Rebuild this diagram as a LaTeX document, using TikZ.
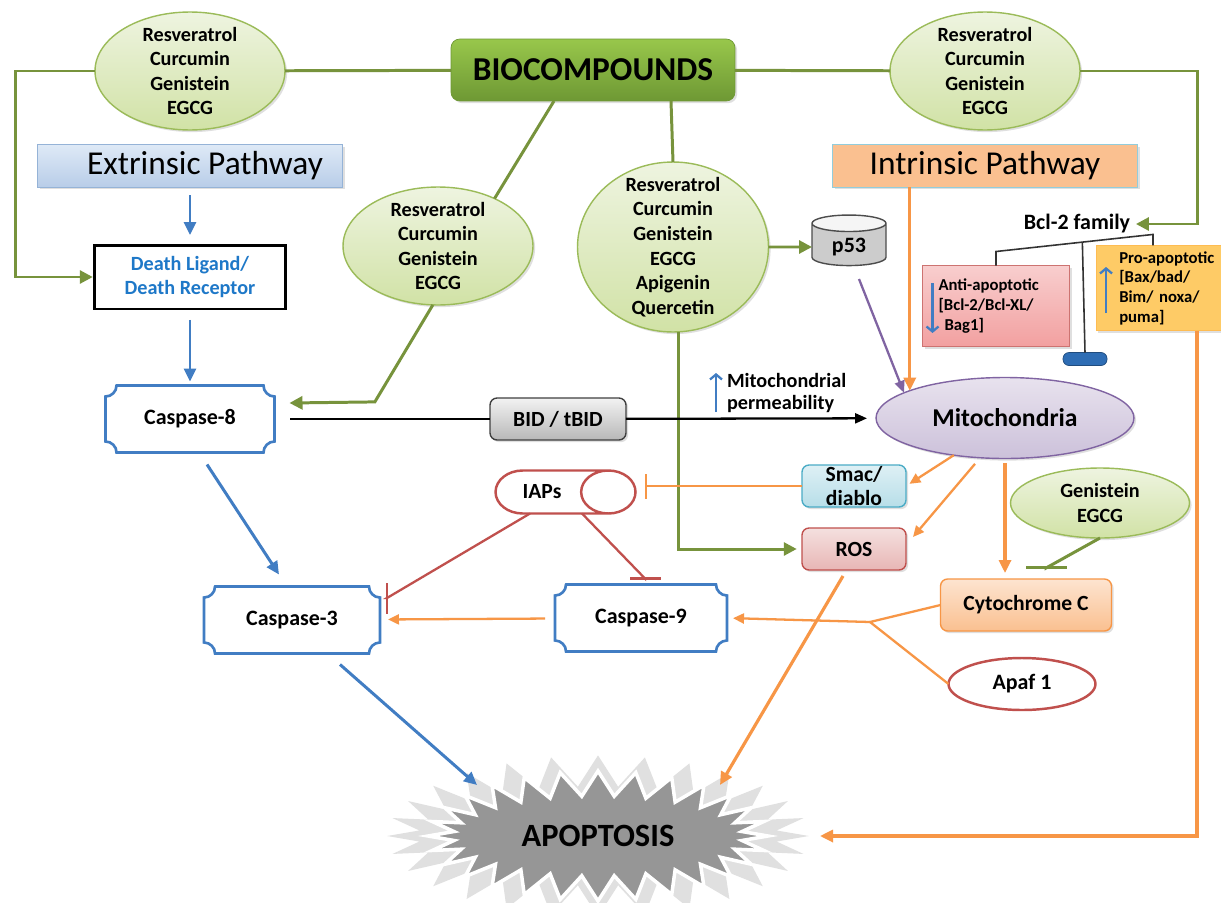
\documentclass[tikz,border=0pt]{standalone}
\usepackage{fontspec}
\setmainfont{Carlito}
\usepackage{xcolor}
\usepackage{tikz}
\definecolor{leafgreen}{RGB}{119,147,60}
\definecolor{leaflight}{RGB}{238,244,224}
\definecolor{leafmid}{RGB}{209,226,166}
\definecolor{leafedge}{RGB}{155,187,89}
\definecolor{biotop}{RGB}{152,199,75}
\definecolor{biobottom}{RGB}{110,152,52}
\definecolor{caspblue}{RGB}{65,125,195}
\definecolor{ligandblue}{RGB}{30,120,200}
\definecolor{signalorange}{RGB}{247,150,70}
\definecolor{blockred}{RGB}{192,80,77}
\definecolor{mitopurple}{RGB}{128,100,162}
\definecolor{mitotop}{RGB}{232,226,238}
\definecolor{mitobottom}{RGB}{204,193,218}
\definecolor{extrtop}{RGB}{222,233,246}
\definecolor{extrbottom}{RGB}{184,205,232}
\definecolor{extredge}{RGB}{149,179,215}
\definecolor{intrfill}{RGB}{250,192,144}
\definecolor{intredge}{RGB}{146,205,220}
\definecolor{skytop}{RGB}{222,240,245}
\definecolor{skybottom}{RGB}{183,222,232}
\definecolor{skyedge}{RGB}{75,172,198}
\definecolor{rostop}{RGB}{244,224,223}
\definecolor{rosbottom}{RGB}{232,182,181}
\definecolor{cytotop}{RGB}{253,228,208}
\definecolor{cytobottom}{RGB}{250,192,144}
\definecolor{antitop}{RGB}{248,206,206}
\definecolor{antibottom}{RGB}{242,160,160}
\definecolor{profill}{RGB}{254,203,102}
\definecolor{pillblue}{RGB}{46,109,180}
\definecolor{apopgray}{RGB}{150,150,150}
\usetikzlibrary{shapes,arrows.meta,positioning,shadows,calc}

\begin{document}
\begin{tikzpicture}[
    x=0.02cm, y=-0.02cm,
    every node/.style={outer sep=0pt},
    softshadow/.style={drop shadow={opacity=0.25, shadow xshift=1.2pt, shadow yshift=-1.2pt}},
    compound/.style={ellipse, draw=leafedge, thick, top color=leaflight, bottom color=leafmid, softshadow, align=center, inner xsep=0pt, inner ysep=-6pt, minimum width=3.8cm, minimum height=2.36cm, font=\bfseries\fontsize{11.5}{14}\selectfont},
    headbox/.style={rectangle, rounded corners=5pt, draw=biobottom, top color=biotop, bottom color=biobottom, softshadow, minimum width=5.68cm, minimum height=1.24cm, font=\bfseries\fontsize{19}{22}\selectfont},
    pathway/.style={rectangle, thick, softshadow, minimum width=6.1cm, minimum height=0.85cm, font=\fontsize{19}{22}\selectfont},
    ligand/.style={rectangle, draw=black, line width=1.7pt, fill=white, minimum width=3.82cm, minimum height=1.28cm, align=center, text=ligandblue, font=\bfseries\fontsize{11.5}{14.2}\selectfont},
    casp/.style={rectangle, minimum height=1.34cm, font=\bfseries\fontsize{12.5}{15}\selectfont},
    caspline/.style={draw=caspblue, line width=1.5pt},
    chip/.style={rectangle, rounded corners=4pt, thick, softshadow, align=center, inner sep=0pt, font=\bfseries\fontsize{12.3}{13.6}\selectfont},
    plug/.style={cylinder, aspect=2.1, draw=blockred, line width=1.4pt, fill=white, minimum width=0.86cm, minimum height=2.8cm, font=\bfseries\fontsize{12.3}{14}\selectfont},
    drum/.style={cylinder, shape border rotate=90, aspect=0.36, draw=black!70, thick, cylinder uses custom fill, cylinder body fill=black!20, cylinder end fill=black!4, minimum width=1.48cm, minimum height=0.98cm, font=\bfseries\fontsize{12.5}{15}\selectfont},
    bclbox/.style={rectangle, softshadow, align=left, font=\bfseries\fontsize{9.5}{11.2}\selectfont},
    burst/.style={starburst, starburst points=28, starburst point height=0.5cm, random starburst=0, fill=apopgray, draw=white, line width=2pt, minimum width=6.8cm, minimum height=2.6cm, font=\bfseries\fontsize{18.5}{20}\selectfont, general shadow={fill=black!12, shadow scale=1.24}},
    leafline/.style={draw=leafgreen, line width=1.7pt},
    leafarrow/.style={leafline, -{Triangle[length=0.26cm, width=0.26cm]}},
    leafbar/.style={leafline, -{Bar[width=0.82cm]}},
    bluearrow/.style={draw=caspblue, line width=1.7pt, -{Triangle[length=0.26cm, width=0.24cm]}},
    thinup/.style={draw=caspblue, line width=1.3pt, -{Straight Barb[length=0.1cm, width=0.24cm]}},
    blackline/.style={draw=black, line width=1.3pt},
    blackarrow/.style={blackline, -{Triangle[length=0.24cm, width=0.2cm]}},
    orangeline/.style={draw=signalorange, line width=1.3pt},
    orangearrow/.style={orangeline, -{Triangle[length=0.22cm, width=0.2cm]}},
    heavyorange/.style={draw=signalorange, line width=1.8pt, -{Triangle[length=0.26cm, width=0.24cm]}},
    orangebar/.style={orangeline, -{Bar[width=0.5cm]}},
    redbar/.style={draw=blockred, line width=1.3pt, -{Bar[width=0.62cm]}},
    purplearrow/.style={draw=mitopurple, line width=1.3pt, -{Triangle[length=0.24cm, width=0.2cm]}},
    beamline/.style={draw=black!80, line width=0.9pt}
]

\path[use as bounding box, fill=white] (0,0) rectangle (1221,903);

\node[headbox] (bio) at (593,70) {BIOCOMPOUNDS};
\node[compound] (tl) at (190,71) {Resveratrol\\Curcumin\\Genistein\\EGCG};
\node[compound] (tr) at (985,71) {Resveratrol\\Curcumin\\Genistein\\EGCG};
\node[compound] (ml) at (438,246) {Resveratrol\\Curcumin\\Genistein\\EGCG};
\node[compound, minimum width=3.82cm, minimum height=3.4cm] (mc) at (673,247) {Resveratrol\\Curcumin\\Genistein\\EGCG\\Apigenin\\Quercetin};
\node[compound, minimum width=3.58cm, minimum height=1.4cm] (gen) at (1100,503) {Genistein\\EGCG};

\node[pathway, draw=extredge, top color=extrtop, bottom color=extrbottom] (extr) at (190,166) {\hspace{0.6cm}Extrinsic Pathway};
\node[pathway, draw=intredge, fill=intrfill] (intr) at (985,166) {Intrinsic Pathway};

\node[ligand] (death) at (190,277) {Death Ligand/\\Death Receptor};
\node[casp, minimum width=3.38cm] (casp8) at (190,419) {Caspase-8};
\node[casp, minimum width=3.52cm] (casp3) at (292,620) {Caspase-3};
\node[casp, minimum width=3.44cm] (casp9) at (641,618) {Caspase-9};

\node[chip, draw=black!75, top color=black!5, bottom color=black!28, minimum width=2.72cm, minimum height=0.84cm] (bid) at (558,419) {BID / tBID};
\node[plug] (iaps) at (542,492) {IAPs};
\node[drum] (p53) at (849,247) {p53};
\node[ellipse, draw=mitopurple, thick, top color=mitotop, bottom color=mitobottom, softshadow, minimum width=5.16cm, minimum height=1.62cm, font=\bfseries\fontsize{14.6}{16}\selectfont] (mito) at (1005,418) {Mitochondria};
\node[anchor=west, align=left, inner sep=0pt, font=\bfseries\fontsize{11.5}{13}\selectfont] (perm) at (727,393) {Mitochondrial\\permeability};
\node[chip, draw=skyedge, top color=skytop, bottom color=skybottom, minimum width=2.08cm, minimum height=0.84cm] (smac) at (854,486) {Smac/\\diablo};
\node[chip, draw=blockred, top color=rostop, bottom color=rosbottom, minimum width=2.08cm, minimum height=0.84cm] (ros) at (854,549) {ROS};
\node[chip, draw=signalorange, top color=cytotop, bottom color=cytobottom, minimum width=3.42cm, minimum height=1.04cm] (cyto) at (1026,605) {Cytochrome C};
\node[ellipse, draw=blockred, line width=1.4pt, fill=white, minimum width=2.94cm, minimum height=1.04cm, font=\bfseries\fontsize{12.5}{15}\selectfont] (apaf) at (1022,684) {Apaf 1};

\node[font=\bfseries\fontsize{12.5}{15}\selectfont] (bcl) at (1077,224) {Bcl-2 family};
\node[bclbox, draw=blockred!80, top color=antitop, bottom color=antibottom, minimum width=2.94cm, minimum height=1.62cm, text width=2.3cm] (anti) at (996,306) {Anti-apoptotic\\{}[Bcl-2/Bcl-XL/\\\hspace*{0.12cm}Bag1]};
\node[bclbox, draw=profill!80!orange, fill=profill, minimum width=2.88cm, minimum height=1.6cm, text width=1.95cm] (pro) at (1168,288) {Pro-apoptotic\\{}[Bax/bad/\\Bim/ noxa/\\puma]};
\node[rectangle, rounded corners=0.12cm, draw=pillblue!70!black, fill=pillblue, minimum width=0.88cm, minimum height=0.26cm, inner sep=0pt] (pill) at (1085,359) {};

\node[burst] (apop) at (598,836) {APOPTOSIS};

\foreach \c in {casp8,casp3,casp9}
  \draw[caspline] ([shift={(11,0)}]\c.north west) -- ([shift={(-11,0)}]\c.north east)
    arc[start angle=180, end angle=270, radius=0.22cm] -- ([shift={(0,-11)}]\c.south east)
    arc[start angle=90, end angle=180, radius=0.22cm] -- ([shift={(11,0)}]\c.south west)
    arc[start angle=0, end angle=90, radius=0.22cm] -- ([shift={(0,11)}]\c.north west)
    arc[start angle=270, end angle=360, radius=0.22cm] -- cycle;

\draw[leafline] (bio) -- (tl);
\draw[leafline] (bio) -- (tr);
\draw[leafarrow, shorten >=1pt] (tl.west) -- ++(-80,0) |- (death.west);
\draw[leafarrow] (tr.east) -- ++(118,0) |- (bcl.east);
\draw[leafline] ([shift={(-39,0)}]bio.south) -- (ml.40);
\draw[leafarrow] (ml.265) -- ++(-58,97) -- ([shift={(15,-16)}]casp8.east);
\draw[leafline] ([shift={(78,0)}]bio.south) -- (mc.north);
\draw[leafarrow] (mc) -- (p53);
\draw[leafarrow, shorten >=3pt] ([shift={(5,0)}]mc.south) |- (ros.west);
\draw[leafbar] (gen.south) -- ([shift={(20,-11)}]cyto.north) -- ([shift={(20,-10)}]cyto.north);

\draw[bluearrow, shorten <=0.16cm, shorten >=0.2cm] (extr) -- (death);
\draw[bluearrow, shorten <=0.22cm, shorten >=0.08cm] (death) -- (casp8);
\draw[bluearrow] ([shift={(17,12)}]casp8.south) -- ([shift={(-13,-12)}]casp3.north);
\draw[bluearrow] ([shift={(48,11)}]casp3.south) -- ([shift={(-121,-51)}]apop.center);

\draw[blackline, shorten <=0.32cm] (casp8) -- (bid);
\draw[blackarrow, shorten >=0.18cm] (bid) -- (mito);
\draw[thinup] ([shift={(-11,19)}]perm.west) -- ([shift={(-11,-20)}]perm.west);

\draw[heavyorange] (intr.south -| mito.164) -- (mito.164);
\draw[purplearrow] ([shift={(10,32)}]p53.center) -- (mito.166);
\draw[heavyorange] ([shift={(29,0)}]pro.south) |- ([shift={(222,0)}]apop.center);
\draw[orangearrow, shorten >=0.08cm] (mito.216) -- (smac.east);
\draw[orangearrow, shorten <=0.16cm] (mito.238) -- ([shift={(7,9)}]ros.north east);
\draw[heavyorange, shorten <=0.1cm, shorten >=0.12cm] (mito.south) -- (mito.south |- cyto.north);
\draw[orangebar] (smac.west) -- ([xshift=0.18cm]iaps.east |- smac.west);
\draw[orangearrow, shorten <=0.2cm, shorten >=0.16cm] (casp9) -- (casp3);
\coordinate (junc) at (870,622);
\draw[orangeline] (cyto.west) -- (junc) -- (apaf.west);
\draw[orangearrow, shorten >=0.12cm] (junc) -- (casp9.east);
\draw[heavyorange] ([shift={(-11,6)}]ros.south) -- ([shift={(122,-51)}]apop.center);

\draw[redbar] ([shift={(-12,0)}]iaps.south) -- ([shift={(7,-22)}]casp3.east) -- ([shift={(6,-22)}]casp3.east);
\draw[redbar] ([shift={(40,0)}]iaps.south) -- ([shift={(4,-6)}]casp9.north) -- ([shift={(4,-5)}]casp9.north);

\draw[beamline] (anti.north) -- ++(0,-14) coordinate (beamL) -- ([shift={(-15,-11)}]pro.north) coordinate (beamR) -- ([shift={(-15,0)}]pro.north);
\draw[beamline] ($(beamL)!0.55!(beamR)$) -- (pill.north);
\draw[thinup] ([shift={(10,-23)}]anti.west) -- ([shift={(10,27)}]anti.west);
\draw[thinup] ([shift={(10,25)}]pro.west) -- ([shift={(10,-21)}]pro.west);

\end{tikzpicture}
\end{document}
